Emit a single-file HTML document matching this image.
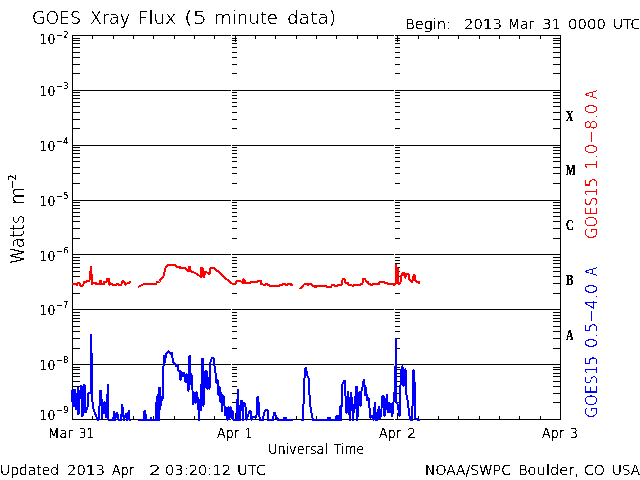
<!DOCTYPE html>
<html><head><meta charset="utf-8"><title>GOES Xray Flux</title>
<style>html,body{margin:0;padding:0;background:#fff;width:640px;height:480px;overflow:hidden}svg{display:block}text{white-space:pre}</style>
</head><body>
<svg width="640" height="480" viewBox="0 0 640 480" font-family="'DejaVu Sans', 'Liberation Sans', sans-serif" font-weight="200">
<rect width="640" height="480" fill="#fff"/>
<g shape-rendering="crispEdges">
<rect x="72" y="419" width="489" height="1" fill="#000"/>
<rect x="72" y="364" width="489" height="1" fill="#000"/>
<rect x="72" y="309" width="489" height="1" fill="#000"/>
<rect x="72" y="254" width="489" height="1" fill="#000"/>
<rect x="72" y="200" width="489" height="1" fill="#000"/>
<rect x="72" y="145" width="489" height="1" fill="#000"/>
<rect x="72" y="90" width="489" height="1" fill="#000"/>
<rect x="72" y="35" width="489" height="1" fill="#000"/>
<rect x="72" y="35" width="1" height="385" fill="#000"/>
<rect x="560" y="35" width="1" height="385" fill="#000"/>
<rect x="231" y="419" width="1" height="1" fill="#fff"/>
<rect x="231" y="364" width="1" height="1" fill="#fff"/>
<rect x="231" y="309" width="1" height="1" fill="#fff"/>
<rect x="231" y="254" width="1" height="1" fill="#fff"/>
<rect x="231" y="200" width="1" height="1" fill="#fff"/>
<rect x="231" y="145" width="1" height="1" fill="#fff"/>
<rect x="231" y="90" width="1" height="1" fill="#fff"/>
<rect x="231" y="35" width="1" height="1" fill="#fff"/>
<rect x="394" y="419" width="1" height="1" fill="#fff"/>
<rect x="394" y="364" width="1" height="1" fill="#fff"/>
<rect x="394" y="309" width="1" height="1" fill="#fff"/>
<rect x="394" y="254" width="1" height="1" fill="#fff"/>
<rect x="394" y="200" width="1" height="1" fill="#fff"/>
<rect x="394" y="145" width="1" height="1" fill="#fff"/>
<rect x="394" y="90" width="1" height="1" fill="#fff"/>
<rect x="394" y="35" width="1" height="1" fill="#fff"/>
<rect x="73" y="402" width="7" height="1" fill="#000"/>
<rect x="553" y="402" width="7" height="1" fill="#000"/>
<rect x="232" y="402" width="5" height="1" fill="#000"/>
<rect x="395" y="402" width="5" height="1" fill="#000"/>
<rect x="73" y="393" width="7" height="1" fill="#000"/>
<rect x="553" y="393" width="7" height="1" fill="#000"/>
<rect x="232" y="393" width="5" height="1" fill="#000"/>
<rect x="395" y="393" width="5" height="1" fill="#000"/>
<rect x="73" y="386" width="7" height="1" fill="#000"/>
<rect x="553" y="386" width="7" height="1" fill="#000"/>
<rect x="232" y="386" width="5" height="1" fill="#000"/>
<rect x="395" y="386" width="5" height="1" fill="#000"/>
<rect x="73" y="381" width="7" height="1" fill="#000"/>
<rect x="553" y="381" width="7" height="1" fill="#000"/>
<rect x="232" y="381" width="5" height="1" fill="#000"/>
<rect x="395" y="381" width="5" height="1" fill="#000"/>
<rect x="73" y="376" width="7" height="1" fill="#000"/>
<rect x="553" y="376" width="7" height="1" fill="#000"/>
<rect x="232" y="376" width="5" height="1" fill="#000"/>
<rect x="395" y="376" width="5" height="1" fill="#000"/>
<rect x="73" y="373" width="7" height="1" fill="#000"/>
<rect x="553" y="373" width="7" height="1" fill="#000"/>
<rect x="232" y="373" width="5" height="1" fill="#000"/>
<rect x="395" y="373" width="5" height="1" fill="#000"/>
<rect x="73" y="369" width="7" height="1" fill="#000"/>
<rect x="553" y="369" width="7" height="1" fill="#000"/>
<rect x="232" y="369" width="5" height="1" fill="#000"/>
<rect x="395" y="369" width="5" height="1" fill="#000"/>
<rect x="73" y="367" width="7" height="1" fill="#000"/>
<rect x="553" y="367" width="7" height="1" fill="#000"/>
<rect x="232" y="367" width="5" height="1" fill="#000"/>
<rect x="395" y="367" width="5" height="1" fill="#000"/>
<rect x="73" y="348" width="7" height="1" fill="#000"/>
<rect x="553" y="348" width="7" height="1" fill="#000"/>
<rect x="232" y="348" width="5" height="1" fill="#000"/>
<rect x="395" y="348" width="5" height="1" fill="#000"/>
<rect x="73" y="338" width="7" height="1" fill="#000"/>
<rect x="553" y="338" width="7" height="1" fill="#000"/>
<rect x="232" y="338" width="5" height="1" fill="#000"/>
<rect x="395" y="338" width="5" height="1" fill="#000"/>
<rect x="73" y="331" width="7" height="1" fill="#000"/>
<rect x="553" y="331" width="7" height="1" fill="#000"/>
<rect x="232" y="331" width="5" height="1" fill="#000"/>
<rect x="395" y="331" width="5" height="1" fill="#000"/>
<rect x="73" y="326" width="7" height="1" fill="#000"/>
<rect x="553" y="326" width="7" height="1" fill="#000"/>
<rect x="232" y="326" width="5" height="1" fill="#000"/>
<rect x="395" y="326" width="5" height="1" fill="#000"/>
<rect x="73" y="321" width="7" height="1" fill="#000"/>
<rect x="553" y="321" width="7" height="1" fill="#000"/>
<rect x="232" y="321" width="5" height="1" fill="#000"/>
<rect x="395" y="321" width="5" height="1" fill="#000"/>
<rect x="73" y="318" width="7" height="1" fill="#000"/>
<rect x="553" y="318" width="7" height="1" fill="#000"/>
<rect x="232" y="318" width="5" height="1" fill="#000"/>
<rect x="395" y="318" width="5" height="1" fill="#000"/>
<rect x="73" y="315" width="7" height="1" fill="#000"/>
<rect x="553" y="315" width="7" height="1" fill="#000"/>
<rect x="232" y="315" width="5" height="1" fill="#000"/>
<rect x="395" y="315" width="5" height="1" fill="#000"/>
<rect x="73" y="312" width="7" height="1" fill="#000"/>
<rect x="553" y="312" width="7" height="1" fill="#000"/>
<rect x="232" y="312" width="5" height="1" fill="#000"/>
<rect x="395" y="312" width="5" height="1" fill="#000"/>
<rect x="73" y="293" width="7" height="1" fill="#000"/>
<rect x="553" y="293" width="7" height="1" fill="#000"/>
<rect x="232" y="293" width="5" height="1" fill="#000"/>
<rect x="395" y="293" width="5" height="1" fill="#000"/>
<rect x="73" y="283" width="7" height="1" fill="#000"/>
<rect x="553" y="283" width="7" height="1" fill="#000"/>
<rect x="232" y="283" width="5" height="1" fill="#000"/>
<rect x="395" y="283" width="5" height="1" fill="#000"/>
<rect x="73" y="276" width="7" height="1" fill="#000"/>
<rect x="553" y="276" width="7" height="1" fill="#000"/>
<rect x="232" y="276" width="5" height="1" fill="#000"/>
<rect x="395" y="276" width="5" height="1" fill="#000"/>
<rect x="73" y="271" width="7" height="1" fill="#000"/>
<rect x="553" y="271" width="7" height="1" fill="#000"/>
<rect x="232" y="271" width="5" height="1" fill="#000"/>
<rect x="395" y="271" width="5" height="1" fill="#000"/>
<rect x="73" y="267" width="7" height="1" fill="#000"/>
<rect x="553" y="267" width="7" height="1" fill="#000"/>
<rect x="232" y="267" width="5" height="1" fill="#000"/>
<rect x="395" y="267" width="5" height="1" fill="#000"/>
<rect x="73" y="263" width="7" height="1" fill="#000"/>
<rect x="553" y="263" width="7" height="1" fill="#000"/>
<rect x="232" y="263" width="5" height="1" fill="#000"/>
<rect x="395" y="263" width="5" height="1" fill="#000"/>
<rect x="73" y="260" width="7" height="1" fill="#000"/>
<rect x="553" y="260" width="7" height="1" fill="#000"/>
<rect x="232" y="260" width="5" height="1" fill="#000"/>
<rect x="395" y="260" width="5" height="1" fill="#000"/>
<rect x="73" y="257" width="7" height="1" fill="#000"/>
<rect x="553" y="257" width="7" height="1" fill="#000"/>
<rect x="232" y="257" width="5" height="1" fill="#000"/>
<rect x="395" y="257" width="5" height="1" fill="#000"/>
<rect x="73" y="238" width="7" height="1" fill="#000"/>
<rect x="553" y="238" width="7" height="1" fill="#000"/>
<rect x="232" y="238" width="5" height="1" fill="#000"/>
<rect x="395" y="238" width="5" height="1" fill="#000"/>
<rect x="73" y="228" width="7" height="1" fill="#000"/>
<rect x="553" y="228" width="7" height="1" fill="#000"/>
<rect x="232" y="228" width="5" height="1" fill="#000"/>
<rect x="395" y="228" width="5" height="1" fill="#000"/>
<rect x="73" y="221" width="7" height="1" fill="#000"/>
<rect x="553" y="221" width="7" height="1" fill="#000"/>
<rect x="232" y="221" width="5" height="1" fill="#000"/>
<rect x="395" y="221" width="5" height="1" fill="#000"/>
<rect x="73" y="216" width="7" height="1" fill="#000"/>
<rect x="553" y="216" width="7" height="1" fill="#000"/>
<rect x="232" y="216" width="5" height="1" fill="#000"/>
<rect x="395" y="216" width="5" height="1" fill="#000"/>
<rect x="73" y="212" width="7" height="1" fill="#000"/>
<rect x="553" y="212" width="7" height="1" fill="#000"/>
<rect x="232" y="212" width="5" height="1" fill="#000"/>
<rect x="395" y="212" width="5" height="1" fill="#000"/>
<rect x="73" y="208" width="7" height="1" fill="#000"/>
<rect x="553" y="208" width="7" height="1" fill="#000"/>
<rect x="232" y="208" width="5" height="1" fill="#000"/>
<rect x="395" y="208" width="5" height="1" fill="#000"/>
<rect x="73" y="205" width="7" height="1" fill="#000"/>
<rect x="553" y="205" width="7" height="1" fill="#000"/>
<rect x="232" y="205" width="5" height="1" fill="#000"/>
<rect x="395" y="205" width="5" height="1" fill="#000"/>
<rect x="73" y="202" width="7" height="1" fill="#000"/>
<rect x="553" y="202" width="7" height="1" fill="#000"/>
<rect x="232" y="202" width="5" height="1" fill="#000"/>
<rect x="395" y="202" width="5" height="1" fill="#000"/>
<rect x="73" y="183" width="7" height="1" fill="#000"/>
<rect x="553" y="183" width="7" height="1" fill="#000"/>
<rect x="232" y="183" width="5" height="1" fill="#000"/>
<rect x="395" y="183" width="5" height="1" fill="#000"/>
<rect x="73" y="173" width="7" height="1" fill="#000"/>
<rect x="553" y="173" width="7" height="1" fill="#000"/>
<rect x="232" y="173" width="5" height="1" fill="#000"/>
<rect x="395" y="173" width="5" height="1" fill="#000"/>
<rect x="73" y="167" width="7" height="1" fill="#000"/>
<rect x="553" y="167" width="7" height="1" fill="#000"/>
<rect x="232" y="167" width="5" height="1" fill="#000"/>
<rect x="395" y="167" width="5" height="1" fill="#000"/>
<rect x="73" y="161" width="7" height="1" fill="#000"/>
<rect x="553" y="161" width="7" height="1" fill="#000"/>
<rect x="232" y="161" width="5" height="1" fill="#000"/>
<rect x="395" y="161" width="5" height="1" fill="#000"/>
<rect x="73" y="157" width="7" height="1" fill="#000"/>
<rect x="553" y="157" width="7" height="1" fill="#000"/>
<rect x="232" y="157" width="5" height="1" fill="#000"/>
<rect x="395" y="157" width="5" height="1" fill="#000"/>
<rect x="73" y="153" width="7" height="1" fill="#000"/>
<rect x="553" y="153" width="7" height="1" fill="#000"/>
<rect x="232" y="153" width="5" height="1" fill="#000"/>
<rect x="395" y="153" width="5" height="1" fill="#000"/>
<rect x="73" y="150" width="7" height="1" fill="#000"/>
<rect x="553" y="150" width="7" height="1" fill="#000"/>
<rect x="232" y="150" width="5" height="1" fill="#000"/>
<rect x="395" y="150" width="5" height="1" fill="#000"/>
<rect x="73" y="147" width="7" height="1" fill="#000"/>
<rect x="553" y="147" width="7" height="1" fill="#000"/>
<rect x="232" y="147" width="5" height="1" fill="#000"/>
<rect x="395" y="147" width="5" height="1" fill="#000"/>
<rect x="73" y="128" width="7" height="1" fill="#000"/>
<rect x="553" y="128" width="7" height="1" fill="#000"/>
<rect x="232" y="128" width="5" height="1" fill="#000"/>
<rect x="395" y="128" width="5" height="1" fill="#000"/>
<rect x="73" y="119" width="7" height="1" fill="#000"/>
<rect x="553" y="119" width="7" height="1" fill="#000"/>
<rect x="232" y="119" width="5" height="1" fill="#000"/>
<rect x="395" y="119" width="5" height="1" fill="#000"/>
<rect x="73" y="112" width="7" height="1" fill="#000"/>
<rect x="553" y="112" width="7" height="1" fill="#000"/>
<rect x="232" y="112" width="5" height="1" fill="#000"/>
<rect x="395" y="112" width="5" height="1" fill="#000"/>
<rect x="73" y="106" width="7" height="1" fill="#000"/>
<rect x="553" y="106" width="7" height="1" fill="#000"/>
<rect x="232" y="106" width="5" height="1" fill="#000"/>
<rect x="395" y="106" width="5" height="1" fill="#000"/>
<rect x="73" y="102" width="7" height="1" fill="#000"/>
<rect x="553" y="102" width="7" height="1" fill="#000"/>
<rect x="232" y="102" width="5" height="1" fill="#000"/>
<rect x="395" y="102" width="5" height="1" fill="#000"/>
<rect x="73" y="98" width="7" height="1" fill="#000"/>
<rect x="553" y="98" width="7" height="1" fill="#000"/>
<rect x="232" y="98" width="5" height="1" fill="#000"/>
<rect x="395" y="98" width="5" height="1" fill="#000"/>
<rect x="73" y="95" width="7" height="1" fill="#000"/>
<rect x="553" y="95" width="7" height="1" fill="#000"/>
<rect x="232" y="95" width="5" height="1" fill="#000"/>
<rect x="395" y="95" width="5" height="1" fill="#000"/>
<rect x="73" y="92" width="7" height="1" fill="#000"/>
<rect x="553" y="92" width="7" height="1" fill="#000"/>
<rect x="232" y="92" width="5" height="1" fill="#000"/>
<rect x="395" y="92" width="5" height="1" fill="#000"/>
<rect x="73" y="73" width="7" height="1" fill="#000"/>
<rect x="553" y="73" width="7" height="1" fill="#000"/>
<rect x="232" y="73" width="5" height="1" fill="#000"/>
<rect x="395" y="73" width="5" height="1" fill="#000"/>
<rect x="73" y="64" width="7" height="1" fill="#000"/>
<rect x="553" y="64" width="7" height="1" fill="#000"/>
<rect x="232" y="64" width="5" height="1" fill="#000"/>
<rect x="395" y="64" width="5" height="1" fill="#000"/>
<rect x="73" y="57" width="7" height="1" fill="#000"/>
<rect x="553" y="57" width="7" height="1" fill="#000"/>
<rect x="232" y="57" width="5" height="1" fill="#000"/>
<rect x="395" y="57" width="5" height="1" fill="#000"/>
<rect x="73" y="52" width="7" height="1" fill="#000"/>
<rect x="553" y="52" width="7" height="1" fill="#000"/>
<rect x="232" y="52" width="5" height="1" fill="#000"/>
<rect x="395" y="52" width="5" height="1" fill="#000"/>
<rect x="73" y="47" width="7" height="1" fill="#000"/>
<rect x="553" y="47" width="7" height="1" fill="#000"/>
<rect x="232" y="47" width="5" height="1" fill="#000"/>
<rect x="395" y="47" width="5" height="1" fill="#000"/>
<rect x="73" y="43" width="7" height="1" fill="#000"/>
<rect x="553" y="43" width="7" height="1" fill="#000"/>
<rect x="232" y="43" width="5" height="1" fill="#000"/>
<rect x="395" y="43" width="5" height="1" fill="#000"/>
<rect x="73" y="40" width="7" height="1" fill="#000"/>
<rect x="553" y="40" width="7" height="1" fill="#000"/>
<rect x="232" y="40" width="5" height="1" fill="#000"/>
<rect x="395" y="40" width="5" height="1" fill="#000"/>
<rect x="73" y="38" width="7" height="1" fill="#000"/>
<rect x="553" y="38" width="7" height="1" fill="#000"/>
<rect x="232" y="38" width="5" height="1" fill="#000"/>
<rect x="395" y="38" width="5" height="1" fill="#000"/>
<rect x="92" y="36" width="1" height="3" fill="#000"/>
<rect x="92" y="416" width="1" height="3" fill="#000"/>
<rect x="113" y="36" width="1" height="3" fill="#000"/>
<rect x="113" y="416" width="1" height="3" fill="#000"/>
<rect x="133" y="36" width="1" height="3" fill="#000"/>
<rect x="133" y="416" width="1" height="3" fill="#000"/>
<rect x="153" y="36" width="1" height="3" fill="#000"/>
<rect x="153" y="416" width="1" height="3" fill="#000"/>
<rect x="174" y="36" width="1" height="3" fill="#000"/>
<rect x="174" y="416" width="1" height="3" fill="#000"/>
<rect x="194" y="36" width="1" height="3" fill="#000"/>
<rect x="194" y="416" width="1" height="3" fill="#000"/>
<rect x="214" y="36" width="1" height="3" fill="#000"/>
<rect x="214" y="416" width="1" height="3" fill="#000"/>
<rect x="235" y="36" width="1" height="6" fill="#000"/>
<rect x="235" y="413" width="1" height="6" fill="#000"/>
<rect x="255" y="36" width="1" height="3" fill="#000"/>
<rect x="255" y="416" width="1" height="3" fill="#000"/>
<rect x="275" y="36" width="1" height="3" fill="#000"/>
<rect x="275" y="416" width="1" height="3" fill="#000"/>
<rect x="296" y="36" width="1" height="3" fill="#000"/>
<rect x="296" y="416" width="1" height="3" fill="#000"/>
<rect x="316" y="36" width="1" height="3" fill="#000"/>
<rect x="316" y="416" width="1" height="3" fill="#000"/>
<rect x="336" y="36" width="1" height="3" fill="#000"/>
<rect x="336" y="416" width="1" height="3" fill="#000"/>
<rect x="357" y="36" width="1" height="3" fill="#000"/>
<rect x="357" y="416" width="1" height="3" fill="#000"/>
<rect x="377" y="36" width="1" height="3" fill="#000"/>
<rect x="377" y="416" width="1" height="3" fill="#000"/>
<rect x="397" y="36" width="1" height="6" fill="#000"/>
<rect x="397" y="413" width="1" height="6" fill="#000"/>
<rect x="418" y="36" width="1" height="3" fill="#000"/>
<rect x="418" y="416" width="1" height="3" fill="#000"/>
<rect x="438" y="36" width="1" height="3" fill="#000"/>
<rect x="438" y="416" width="1" height="3" fill="#000"/>
<rect x="458" y="36" width="1" height="3" fill="#000"/>
<rect x="458" y="416" width="1" height="3" fill="#000"/>
<rect x="479" y="36" width="1" height="3" fill="#000"/>
<rect x="479" y="416" width="1" height="3" fill="#000"/>
<rect x="499" y="36" width="1" height="3" fill="#000"/>
<rect x="499" y="416" width="1" height="3" fill="#000"/>
<rect x="519" y="36" width="1" height="3" fill="#000"/>
<rect x="519" y="416" width="1" height="3" fill="#000"/>
<rect x="540" y="36" width="1" height="3" fill="#000"/>
<rect x="540" y="416" width="1" height="3" fill="#000"/>
</g>
<polyline points="72,390 72.7,406 73.5,390 74.3,406 75,390 76,409.5 78,388 78.5,414.5 79.5,399 81,386 81.5,386 82.5,416.5 84,384.5 84.5,384.5 85.5,412.5 87.5,407 88.5,393 89.5,393 91,393 91,335 92,369 92.5,402 93.5,409 95.5,414.5 97.5,420 98.5,420 99.5,406 100.3,391 101.3,391 102,418 103,410 104.5,402 105.8,417 106.5,412 108,385 108.5,420 113.3,420 114,412 115.2,420 116.3,414 117.3,413 118.5,420 121,420 122.3,405 123.8,420 125.8,414 126.8,420 128.7,411 129.5,420 131,420" fill="none" stroke="#0000ff" stroke-width="2" stroke-linejoin="round" shape-rendering="crispEdges"/>
<polyline points="138,420 144,420 144.5,411 145.3,411 146,420 150,420 151,418 152,420 155.5,420 156.5,402 157,420 157.5,396 158,410 158.7,388 159.3,420 160,388 161,405 161.5,397 162.5,400 163,380 163.5,366 164,356 165,362 166,354 167,353 168.5,351.3 169.5,353 171,354 172,353 173,362 174.5,363 176,366 177.5,365 178.5,371 180,371 180.5,380 181.5,372 183,376 184,372.5 185.5,382 186.5,374 187.5,383 188.5,391 189.5,356 190,356 190.5,373 191,384 192,376 193,404 194,393 195.5,403 196.5,392 198,399 199,420 200,400 201,410 202,359 202.7,359 203.5,405.7 204.5,388 205.5,371 206.5,371 207.5,389 208.5,378 209.5,389 210.5,362 212,357.5 213.5,357.5 214.5,366 215.5,373 216.5,383 217.5,380 218.5,395 219.5,387 220.5,402 221.5,393 222,411 223.5,396 225,411 225.5,415.5 226.5,408 227.5,420 228.5,407 229.5,418 230.5,407 231.5,418 232.5,411 233.5,420 236.5,420 238,389.5 238,420 239,406 240,420 241,401 242,401 243,420 243.5,403 244.5,403 245.5,407 246.5,420 248,416 249.5,411 250.5,411 251.5,420 253,417 256,417 256.5,415 257.5,397 258.3,397 259,414 260,420 263,420 264,413 265.5,410 267.5,410 268.3,420 273,420 274,413 275,413 276.5,418 277.5,418 278,420 282,420 283,420 284,418 285,420 286,418 287,420 292.5,420" fill="none" stroke="#0000ff" stroke-width="2" stroke-linejoin="round" shape-rendering="crispEdges"/>
<polyline points="300.5,420 303,420 304,388 305,369 306,367.5 307,375 308.5,378 309.5,395 310.5,407 312,416 313,420 328,420 328.5,417.5 329.5,417.5 330,420 336,420 336.5,416 337,416 337.5,420 339,420 340.5,406 341,420 342.5,384 344,381 345,381 345.5,396 346.5,413 347.8,391.5 348.2,391.5 349.8,420 350.8,392.5 351.2,392.5 353.2,420 353.8,405 354.3,412 356.3,386.5 356.7,386.5 357.3,420 358.5,402 359.5,392 360.5,406 361.5,391 362,390 363.8,379.5 364.3,380 365,395 366,388 367,400 368,398 368.8,399 369.5,408 370.5,418 372,416 373.5,420 374.8,403 375.2,403 375.8,420 377.5,420 378.7,407 379.2,407 380,418 381,415 382.5,396 383.5,396 384.5,416 385.5,410 386.8,395 387.2,395 388,412 389,403 390,412 391,404 392,416 393,412 394,393 395,393 396,339 396,401 397.5,404 399.5,416 401,370 402.5,366.5 403.5,386 404.5,385 405.5,369.5 406.5,395 407.5,400 409.5,416 410.5,420 412,420 412.8,398 413.5,370.5 414.3,371 415.2,418 418,420 419.5,420" fill="none" stroke="#0000ff" stroke-width="2" stroke-linejoin="round" shape-rendering="crispEdges"/>
<polyline points="72,284 76,284 77,285.5 78,282.5 79.5,283.5 80.5,285.5 83,285.5 84,282 86.5,281.5 88,280.5 89.5,280.5 91,267 91,275 92,275 92,284 93.5,282.5 95.5,282.5 96,284 100,284 100.5,280.5 101,280.5 101.5,284 104,284 104.5,281.5 107,281.5 107.5,278.5 108.5,278.5 109.5,285 110.5,283.5 112,284 113,285 116,285 116.5,284 118,284 118.5,285 121,285 123,280.5 124,281.5 125.5,285 127,283.5 131,282" fill="none" stroke="#ff0000" stroke-width="2" stroke-linejoin="round" shape-rendering="crispEdges"/>
<polyline points="138,287 140,286 143,284.5 152,284 154.5,284 156,284.5 157,282 159.5,281.5 160.5,279 161.5,278.5 163.5,276 164.5,272.5 165,269 166,266.5 168.25,265 175,265 176,266.5 179.5,266.5 180,268 185,268 188,271 189,271 189.5,266.5 190,266.5 190.5,271 192,272 194,272.5 197,274 199.5,276 201,277 201.5,267.5 202.5,267.5 203,276.5 203.5,272 204,277 205,272 207,272.5 209.5,274 210,269 211,268 214.5,268 215.5,270 218.25,271.5 222,275 225.75,278.5 229.5,281.5 232,283.5 234.5,283.5 235.5,284 236.5,281 240,281 242.5,282 243,283 243.5,279.5 244.5,280.5 245,283 247,283 250.75,282.8 251,281.5 258.25,281.5 258.5,280.5 260.5,280.5 261,284 263.25,284.5 264,285 265,285 265.5,283.8 267.5,283.8 268,285 269.5,285.5 270,286.2 279,286.2 279.5,285.3 282,285.3 282.5,283.8 285,283.8 285.5,285 287.5,285 288,283.8 290.75,283.8 291,284.7 293,284.7" fill="none" stroke="#ff0000" stroke-width="2" stroke-linejoin="round" shape-rendering="crispEdges"/>
<polyline points="300,289 304.5,284 307,284 307.5,285 308,285 308.5,284 312,284.5 312.5,285.6 314.5,285.6 315,287 315.75,287 316,286 326.4,286.2 326.8,287 331.4,287 331.7,285 334.5,285 334.8,286.3 337,286.3 337.3,285.3 341.4,285.3 342,283.8 342.6,279 344.5,279 345,281.6 346,282.8 348.25,283 348.5,284.7 350,284.7 350.5,285.3 352,285.5 353,286 353.5,285.3 355,285.3 355.5,284.7 360,284.7 360.5,283.8 362.3,283.8 362.8,282.2 363.5,278.5 365,278.5 366,281.6 368.25,282 368.5,283.8 370,283.8 370.5,285 372.6,285 373,283.8 379,283.8 379.5,281.9 384.5,281.9 385,283.1 387,283.1 387.5,284 389.5,284 390,283.8 393,283.8 394,285 395,283.5 396,283.5 396,264.5 396,277 397.5,268 397.5,278 398.5,283.5 400,283.5 400.75,281.25 401.5,275.5 402.6,273 404,273 404.5,276.25 405.5,277.5 406,274 408.5,274 409,279 412,282.2 413,279 413.6,275 414.5,275 415,280 416.4,281.6 418.9,281.6 419.3,283.4 420,283.4" fill="none" stroke="#ff0000" stroke-width="2" stroke-linejoin="round" shape-rendering="crispEdges"/>
<defs><filter id="crisp" x="0" y="0" width="100%" height="100%" color-interpolation-filters="sRGB"><feComponentTransfer><feFuncA type="discrete" tableValues="0 1 1 1 1"/></feComponentTransfer></filter><filter id="crisp2" x="0" y="0" width="100%" height="100%" color-interpolation-filters="sRGB"><feComponentTransfer><feFuncA type="discrete" tableValues="0 1 1"/></feComponentTransfer></filter><filter id="crisp3" x="0" y="0" width="100%" height="100%" color-interpolation-filters="sRGB"><feComponentTransfer><feFuncA type="discrete" tableValues="0 1 1 1"/></feComponentTransfer></filter></defs>
<g filter="url(#crisp)"><text filter="url(#crisp2)" x="32" y="24" font-size="18" fill="#000" text-anchor="start" textLength="49" lengthAdjust="spacingAndGlyphs" >GOES</text>
<text filter="url(#crisp2)" x="90" y="24" font-size="18" fill="#000" text-anchor="start" textLength="40" lengthAdjust="spacingAndGlyphs" >Xray</text>
<text filter="url(#crisp2)" x="138" y="24" font-size="18" fill="#000" text-anchor="start" textLength="38" lengthAdjust="spacingAndGlyphs" >Flux</text>
<text filter="url(#crisp2)" x="184" y="24" font-size="18" fill="#000" text-anchor="start" textLength="23" lengthAdjust="spacingAndGlyphs" >(5</text>
<text filter="url(#crisp2)" x="214" y="24" font-size="18" fill="#000" text-anchor="start" textLength="64" lengthAdjust="spacingAndGlyphs" >minute</text>
<text filter="url(#crisp2)" x="287" y="24" font-size="18" fill="#000" text-anchor="start" textLength="49" lengthAdjust="spacingAndGlyphs" >data)</text>
<text filter="url(#crisp3)" x="405" y="29" font-size="14.5" fill="#000" text-anchor="start" textLength="46" lengthAdjust="spacingAndGlyphs" >Begin:</text>
<text filter="url(#crisp3)" x="464" y="29" font-size="14.5" fill="#000" text-anchor="start" textLength="38" lengthAdjust="spacingAndGlyphs" >2013</text>
<text filter="url(#crisp3)" x="508" y="29" font-size="14.5" fill="#000" text-anchor="start" textLength="26" lengthAdjust="spacingAndGlyphs" >Mar</text>
<text filter="url(#crisp3)" x="542" y="29" font-size="14.5" fill="#000" text-anchor="start" textLength="19" lengthAdjust="spacingAndGlyphs" >31</text>
<text filter="url(#crisp3)" x="568" y="29" font-size="14.5" fill="#000" text-anchor="start" textLength="38" lengthAdjust="spacingAndGlyphs" >0000</text>
<text filter="url(#crisp3)" x="613" y="29" font-size="14.5" fill="#000" text-anchor="start" textLength="27" lengthAdjust="spacingAndGlyphs" >UTC</text>
<text filter="url(#crisp3)" x="0" y="475" font-size="14.5" fill="#000" text-anchor="start" textLength="59" lengthAdjust="spacingAndGlyphs" >Updated</text>
<text filter="url(#crisp3)" x="67" y="475" font-size="14.5" fill="#000" text-anchor="start" textLength="38" lengthAdjust="spacingAndGlyphs" >2013</text>
<text filter="url(#crisp3)" x="112" y="475" font-size="14.5" fill="#000" text-anchor="start" textLength="22" lengthAdjust="spacingAndGlyphs" >Apr</text>
<text filter="url(#crisp3)" x="149" y="475" font-size="14.5" fill="#000" text-anchor="start" textLength="12" lengthAdjust="spacingAndGlyphs" >2</text>
<text filter="url(#crisp3)" x="165" y="475" font-size="14.5" fill="#000" text-anchor="start" textLength="66" lengthAdjust="spacingAndGlyphs" >03:20:12</text>
<text filter="url(#crisp3)" x="237" y="475" font-size="14.5" fill="#000" text-anchor="start" textLength="29" lengthAdjust="spacingAndGlyphs" >UTC</text>
<text filter="url(#crisp3)" x="425" y="475" font-size="14.5" fill="#000" text-anchor="start" textLength="86" lengthAdjust="spacingAndGlyphs" >NOAA/SWPC</text>
<text filter="url(#crisp3)" x="518" y="475" font-size="14.5" fill="#000" text-anchor="start" textLength="61" lengthAdjust="spacingAndGlyphs" >Boulder,</text>
<text filter="url(#crisp3)" x="584" y="475" font-size="14.5" fill="#000" text-anchor="start" textLength="21" lengthAdjust="spacingAndGlyphs" >CO</text>
<text filter="url(#crisp3)" x="612" y="475" font-size="14.5" fill="#000" text-anchor="start" textLength="28" lengthAdjust="spacingAndGlyphs" >USA</text>
<text filter="url(#crisp3)" x="48" y="438" font-size="14.5" fill="#000" text-anchor="start" textLength="25" lengthAdjust="spacingAndGlyphs" >Mar</text>
<text filter="url(#crisp3)" x="79" y="438" font-size="14.5" fill="#000" text-anchor="start" textLength="15" lengthAdjust="spacingAndGlyphs" >31</text>
<text filter="url(#crisp3)" x="217" y="438" font-size="14.5" fill="#000" text-anchor="start" textLength="22" lengthAdjust="spacingAndGlyphs" >Apr</text>
<text filter="url(#crisp3)" x="245" y="438" font-size="14.5" fill="#000" text-anchor="start" textLength="7" lengthAdjust="spacingAndGlyphs" >1</text>
<text filter="url(#crisp3)" x="379" y="438" font-size="14.5" fill="#000" text-anchor="start" textLength="22" lengthAdjust="spacingAndGlyphs" >Apr</text>
<text filter="url(#crisp3)" x="407" y="438" font-size="14.5" fill="#000" text-anchor="start" textLength="9" lengthAdjust="spacingAndGlyphs" >2</text>
<text filter="url(#crisp3)" x="542" y="438" font-size="14.5" fill="#000" text-anchor="start" textLength="22" lengthAdjust="spacingAndGlyphs" >Apr</text>
<text filter="url(#crisp3)" x="570" y="438" font-size="14.5" fill="#000" text-anchor="start" textLength="8" lengthAdjust="spacingAndGlyphs" >3</text>
<text filter="url(#crisp3)" x="268" y="454" font-size="14.5" fill="#000" text-anchor="start" textLength="60" lengthAdjust="spacingAndGlyphs" >Universal</text>
<text filter="url(#crisp3)" x="334" y="454" font-size="14.5" fill="#000" text-anchor="start" textLength="30" lengthAdjust="spacingAndGlyphs" >Time</text>
<text x="39.5" y="44" font-size="14" fill="#000" text-anchor="start" textLength="16" lengthAdjust="spacingAndGlyphs" >10</text>
<text x="56.5" y="38" font-size="9" fill="#000" text-anchor="start" textLength="12" lengthAdjust="spacingAndGlyphs" >−2</text>
<text x="39.5" y="96" font-size="14" fill="#000" text-anchor="start" textLength="16" lengthAdjust="spacingAndGlyphs" >10</text>
<text x="56.5" y="89" font-size="9" fill="#000" text-anchor="start" textLength="12" lengthAdjust="spacingAndGlyphs" >−3</text>
<text x="39.5" y="151" font-size="14" fill="#000" text-anchor="start" textLength="16" lengthAdjust="spacingAndGlyphs" >10</text>
<text x="56.5" y="144" font-size="9" fill="#000" text-anchor="start" textLength="12" lengthAdjust="spacingAndGlyphs" >−4</text>
<text x="39.5" y="206" font-size="14" fill="#000" text-anchor="start" textLength="16" lengthAdjust="spacingAndGlyphs" >10</text>
<text x="56.5" y="199" font-size="9" fill="#000" text-anchor="start" textLength="12" lengthAdjust="spacingAndGlyphs" >−5</text>
<text x="39.5" y="261" font-size="14" fill="#000" text-anchor="start" textLength="16" lengthAdjust="spacingAndGlyphs" >10</text>
<text x="56.5" y="254" font-size="9" fill="#000" text-anchor="start" textLength="12" lengthAdjust="spacingAndGlyphs" >−6</text>
<text x="39.5" y="315" font-size="14" fill="#000" text-anchor="start" textLength="16" lengthAdjust="spacingAndGlyphs" >10</text>
<text x="56.5" y="308" font-size="9" fill="#000" text-anchor="start" textLength="12" lengthAdjust="spacingAndGlyphs" >−7</text>
<text x="39.5" y="370" font-size="14" fill="#000" text-anchor="start" textLength="16" lengthAdjust="spacingAndGlyphs" >10</text>
<text x="56.5" y="363" font-size="9" fill="#000" text-anchor="start" textLength="12" lengthAdjust="spacingAndGlyphs" >−8</text>
<text x="39.5" y="420" font-size="14" fill="#000" text-anchor="start" textLength="16" lengthAdjust="spacingAndGlyphs" >10</text>
<text x="56.5" y="413" font-size="9" fill="#000" text-anchor="start" textLength="12" lengthAdjust="spacingAndGlyphs" >−9</text>
<text filter="url(#crisp2)" x="566" y="121" font-size="15" fill="#000" text-anchor="start" textLength="7.5" lengthAdjust="spacingAndGlyphs" font-family="'Liberation Serif', serif" font-weight="bold">X</text>
<text filter="url(#crisp2)" x="566" y="175" font-size="15" fill="#000" text-anchor="start" textLength="9.5" lengthAdjust="spacingAndGlyphs" font-family="'Liberation Serif', serif" font-weight="bold">M</text>
<text filter="url(#crisp2)" x="566" y="230" font-size="15" fill="#000" text-anchor="start" textLength="7.5" lengthAdjust="spacingAndGlyphs" font-family="'Liberation Serif', serif" font-weight="bold">C</text>
<text filter="url(#crisp2)" x="566" y="285" font-size="15" fill="#000" text-anchor="start" textLength="7.5" lengthAdjust="spacingAndGlyphs" font-family="'Liberation Serif', serif" font-weight="bold">B</text>
<text filter="url(#crisp2)" x="566" y="340" font-size="15" fill="#000" text-anchor="start" textLength="7.5" lengthAdjust="spacingAndGlyphs" font-family="'Liberation Serif', serif" font-weight="bold">A</text>
<text filter="url(#crisp2)" x="0" y="0" font-size="19" fill="#000" text-anchor="start" textLength="49" lengthAdjust="spacingAndGlyphs" transform="translate(24.0,264.0) rotate(-90)">Watts</text>
<text filter="url(#crisp2)" x="0" y="0" font-size="19" fill="#000" text-anchor="start" textLength="18" lengthAdjust="spacingAndGlyphs" transform="translate(24.0,205.0) rotate(-90)">m</text>
<text x="0" y="0" font-size="11" fill="#000" text-anchor="start" textLength="14" lengthAdjust="spacingAndGlyphs" transform="translate(16.0,188.5) rotate(-90)">−2</text>
<text filter="url(#crisp2)" x="0" y="0" font-size="16.5" fill="#ff0000" text-anchor="start" textLength="61.18" lengthAdjust="spacingAndGlyphs" transform="translate(597.0,239.0) rotate(-90)">GOES15</text>
<text filter="url(#crisp2)" x="0" y="0" font-size="16.5" fill="#ff0000" text-anchor="start" textLength="66.26" lengthAdjust="spacingAndGlyphs" transform="translate(597.0,170.0) rotate(-90)">1.0−8.0</text>
<text filter="url(#crisp2)" x="0" y="0" font-size="16.5" fill="#ff0000" text-anchor="start" textLength="9.18" lengthAdjust="spacingAndGlyphs" transform="translate(597.0,99.0) rotate(-90)">A</text>
<text filter="url(#crisp2)" x="0" y="0" font-size="16.5" fill="#0000ff" text-anchor="start" textLength="62.2" lengthAdjust="spacingAndGlyphs" transform="translate(597.0,418.0) rotate(-90)">GOES15</text>
<text filter="url(#crisp2)" x="0" y="0" font-size="16.5" fill="#0000ff" text-anchor="start" textLength="64.24" lengthAdjust="spacingAndGlyphs" transform="translate(597.0,348.0) rotate(-90)">0.5−4.0</text>
<text filter="url(#crisp2)" x="0" y="0" font-size="16.5" fill="#0000ff" text-anchor="start" textLength="9.18" lengthAdjust="spacingAndGlyphs" transform="translate(597.0,276.0) rotate(-90)">A</text></g>
</svg>
</body></html>
